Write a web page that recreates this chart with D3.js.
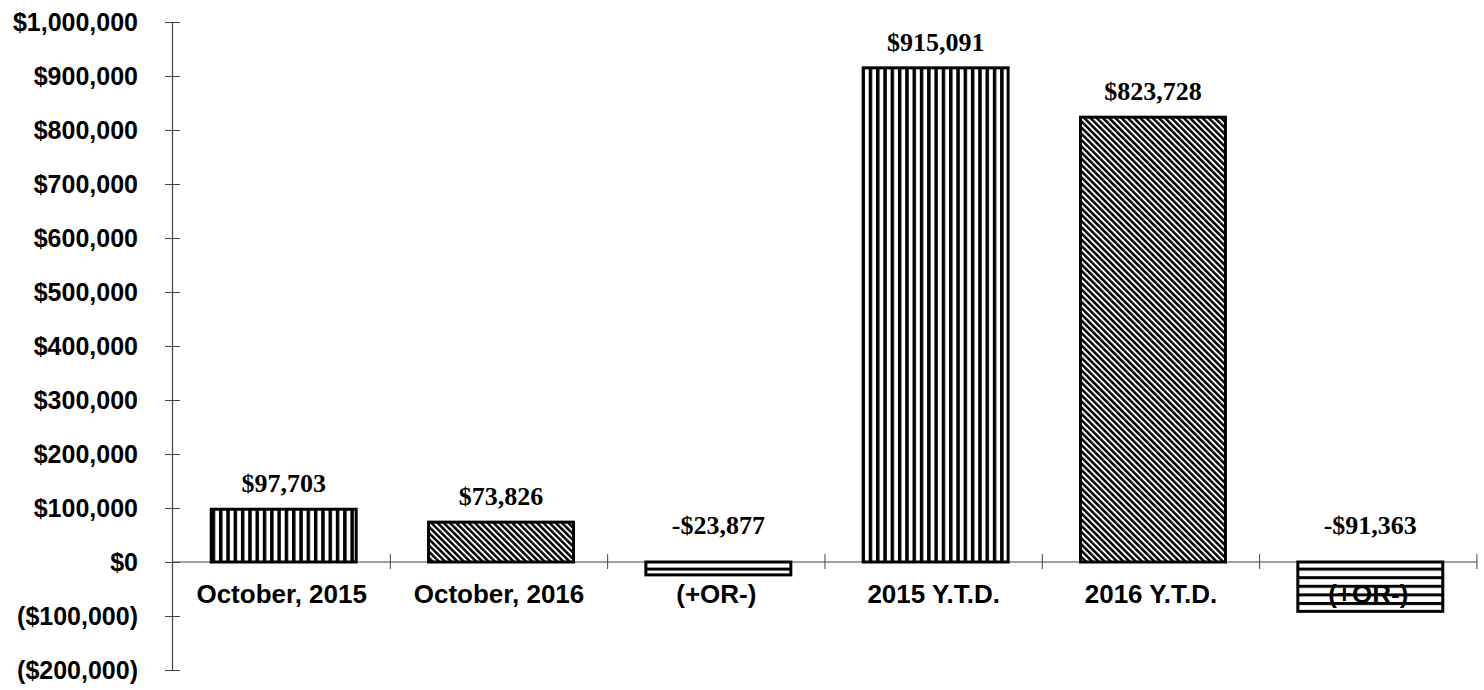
<!DOCTYPE html>
<html>
<head>
<meta charset="utf-8">
<script src="https://cdn.jsdelivr.net/npm/d3@7"></script>
<style>
  body { margin: 0; background: #fff; }
  svg { display: block; }
</style>
</head>
<body>
<div id="chart"></div>
<script>
var categories = ["October, 2015", "October, 2016", "(+OR-)", "2015 Y.T.D.", "2016 Y.T.D.", "(+OR-)"];
var values = [97703, 73826, -23877, 915091, 823728, -91363];
var patterns = ["vert", "diag", "horiz", "vert", "diag", "horiz"];
var yTicks = [-200000, -100000, 0, 100000, 200000, 300000, 400000, 500000, 600000, 700000, 800000, 900000, 1000000];

var svgWidth = 1484;
var svgHeight = 690;

var svg = d3.select("#chart")
    .append("svg")
    .attr("width", svgWidth)
    .attr("height", svgHeight);

var defs = svg.append("defs");

// vertical stripes
var pv = defs.append("pattern")
    .attr("id", "vert")
    .attr("patternUnits", "userSpaceOnUse")
    .attr("width", 7.3).attr("height", 10);
pv.append("rect").attr("width", 7.3).attr("height", 10).attr("fill", "#fff");
pv.append("rect").attr("x", 0).attr("width", 3.5).attr("height", 10).attr("fill", "#000");

// diagonal stripes (top-left to bottom-right)
var pd = defs.append("pattern")
    .attr("id", "diag")
    .attr("patternUnits", "userSpaceOnUse")
    .attr("width", 4.4).attr("height", 10)
    .attr("patternTransform", "rotate(-45)");
pd.append("rect").attr("width", 4.4).attr("height", 10).attr("fill", "#fff");
pd.append("rect").attr("width", 2.5).attr("height", 10).attr("fill", "#000");

// horizontal stripes, no background so text shows through
var ph = defs.append("pattern")
    .attr("id", "horiz")
    .attr("patternUnits", "userSpaceOnUse")
    .attr("width", 10).attr("height", 8.6);
ph.append("rect").attr("y", 0).attr("width", 10).attr("height", 3).attr("fill", "#000");

var x = d3.scaleBand()
    .domain(d3.range(categories.length))
    .range([173, 1477])
    .paddingInner(0.333)
    .paddingOuter(0.1667);

var y = d3.scaleLinear()
    .domain([-200000, 1000000])
    .range([670, 22]);

function axisFmt(v) {
    var s = "$" + d3.format(",")(Math.abs(v));
    return v < 0 ? "(" + s + ")" : s;
}
function valFmt(v) {
    return (v < 0 ? "-$" : "$") + d3.format(",")(Math.abs(v));
}

// y axis
var yAxis = d3.axisLeft(y)
    .tickValues(yTicks)
    .tickFormat(axisFmt)
    .tickSizeOuter(0)
    .tickSize(7)
    .tickPadding(27);

var yG = svg.append("g")
    .attr("transform", "translate(172,0)")
    .call(yAxis);
yG.select(".domain").attr("stroke", "#444").attr("stroke-width", 1.2);
yG.selectAll(".tick line").attr("x1", -7).attr("x2", 8).attr("stroke", "#444");
yG.selectAll(".tick text")
    .attr("font-family", "'Liberation Sans', Arial, sans-serif")
    .attr("font-weight", "bold")
    .attr("font-size", 25)
    .attr("fill", "#000");

// category labels (drawn first so the striped bar passes over them)
svg.append("g").selectAll("text")
    .data(categories)
    .enter()
    .append("text")
    .attr("x", (d, i) => x(i) + x.bandwidth() / 2)
    .attr("y", y(0) + 41)
    .attr("text-anchor", "middle")
    .attr("font-family", "'Liberation Sans', Arial, sans-serif")
    .attr("font-weight", "bold")
    .attr("font-size", 26)
    .text(d => d);

// x axis line with crossing ticks at band edges
var zeroY = y(0);
svg.append("line")
    .attr("x1", 172).attr("x2", 1477)
    .attr("y1", zeroY).attr("y2", zeroY)
    .attr("stroke", "#444").attr("stroke-width", 1.2);

svg.append("g").selectAll("line")
    .data(d3.range(1, categories.length + 1))
    .enter()
    .append("line")
    .attr("x1", i => x.range()[0] + i * x.step())
    .attr("x2", i => x.range()[0] + i * x.step())
    .attr("y1", zeroY - 8).attr("y2", zeroY + 7)
    .attr("stroke", "#444");

// bars
svg.append("g").selectAll("rect")
    .data(values)
    .enter()
    .append("rect")
    .attr("x", (d, i) => x(i) + 2)
    .attr("width", x.bandwidth())
    .attr("y", d => y(Math.max(0, d)))
    .attr("height", d => Math.abs(y(d) - y(0)))
    .attr("fill", (d, i) => "url(#" + patterns[i] + ")")
    .attr("stroke", "#000")
    .attr("stroke-width", 3);

// value labels
svg.append("g").selectAll("text")
    .data(values)
    .enter()
    .append("text")
    .attr("x", (d, i) => x(i) + 2 + x.bandwidth() / 2)
    .attr("y", d => d >= 0 ? y(d) - 17 : y(0) - 28)
    .attr("text-anchor", "middle")
    .attr("font-family", "'Liberation Serif', 'Times New Roman', serif")
    .attr("font-weight", "bold")
    .attr("font-size", 26)
    .text(d => valFmt(d));
</script>
</body>
</html>
